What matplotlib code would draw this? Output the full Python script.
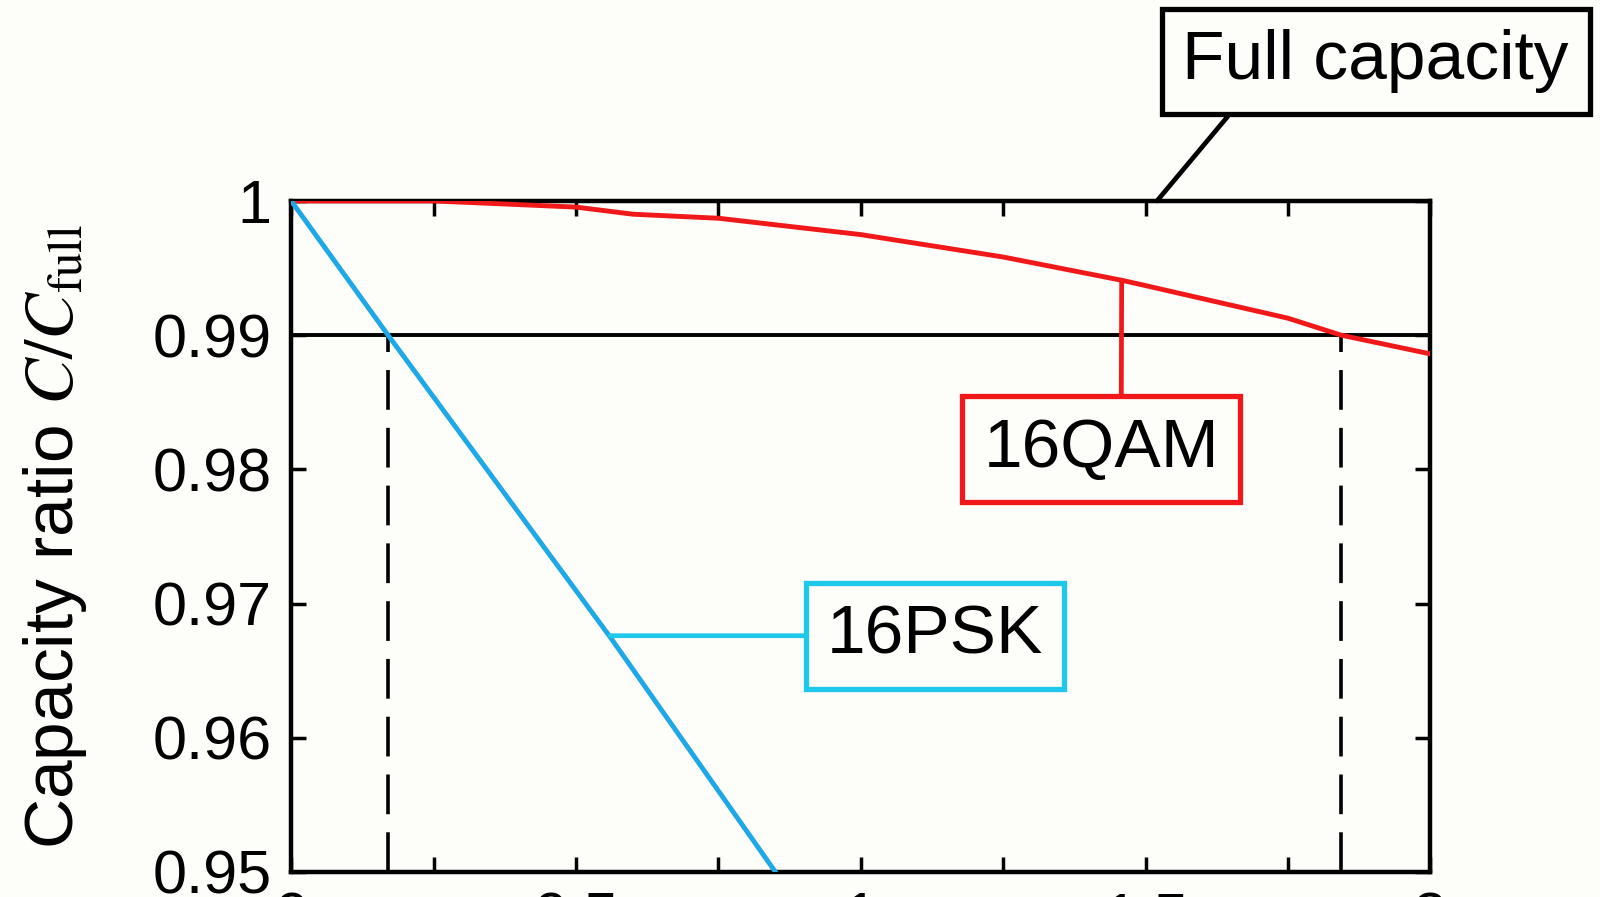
import matplotlib
matplotlib.use('Agg')
import matplotlib.pyplot as plt
from matplotlib.ticker import MultipleLocator

plt.rcParams['font.family'] = ['Liberation Sans', 'DejaVu Sans']
plt.rcParams['mathtext.fontset'] = 'stix'

# 16QAM capacity ratio
qam_x = [0.0, 0.25, 0.5, 0.6, 0.75, 1.0, 1.25, 1.46, 1.5, 1.75, 1.843, 2.0]
qam_y = [1.0, 1.0, 0.99954, 0.99901, 0.99871, 0.99749, 0.99582, 0.99407, 0.99369, 0.99126, 0.99, 0.9886]

# 16PSK capacity ratio
psk_x = [0.0, 0.17, 0.56, 0.85]
psk_y = [1.0, 0.99, 0.9675, 0.95]

threshold = 0.99
cross_x = [0.17, 1.843]

y_ticks = [0.95, 0.96, 0.97, 0.98, 0.99, 1.0]
y_labels = ['0.95', '0.96', '0.97', '0.98', '0.99', '1']
x_ticks = [0, 0.5, 1, 1.5, 2]
x_labels = ['0', '0.5', '1', '1.5', '2']

RED = '#f01818'
BLUE = '#1ea8e6'
CYAN = '#1ec8ea'
BG = '#fdfdf9'

fig = plt.figure(figsize=(16, 8.97), dpi=100, facecolor=BG)
ax = fig.add_axes([0.182, 0.028, 0.712, 0.748])
ax.set_facecolor(BG)

ax.axhline(threshold, color='black', linewidth=2.8, zorder=2)
for cx in cross_x:
    ax.plot([cx, cx], [0.95, threshold], color='black', linewidth=2.6,
            linestyle=(0, (11, 5)), zorder=2)

ax.plot(qam_x, qam_y, color=RED, linewidth=3.5, zorder=3)
ax.plot(psk_x, psk_y, color=BLUE, linewidth=3.5, zorder=3)

ax.set_xlim(0, 2)
ax.set_ylim(0.95, 1.0)
ax.set_yticks(y_ticks)
ax.set_yticklabels(y_labels)
ax.set_xticks(x_ticks)
ax.set_xticklabels(x_labels)
ax.xaxis.set_minor_locator(MultipleLocator(0.25))
ax.tick_params(which='both', direction='in', length=11, width=2.5,
               top=True, right=True, labelsize=44, pad=14, colors='black')
for sp in ax.spines.values():
    sp.set_linewidth(3.2)

ax.set_ylabel(r'Capacity ratio $C/C_{\mathrm{full}}$', fontsize=50, labelpad=46)

ax.annotate('Full capacity', xy=(1.52, 1.0), xytext=(1.904, 1.0104),
            ha='center', va='center', fontsize=50, annotation_clip=False,
            bbox=dict(boxstyle='square,pad=0.3', fc=BG, ec='black', lw=3.8),
            arrowprops=dict(arrowstyle='-', color='black', lw=3.4,
                            relpos=(0.167, 0.0), shrinkA=0, shrinkB=0))

ax.annotate('16QAM', xy=(1.458, 0.99407), xytext=(1.422, 0.9815),
            ha='center', va='center', fontsize=50,
            bbox=dict(boxstyle='square,pad=0.3', fc=BG, ec=RED, lw=3.8),
            arrowprops=dict(arrowstyle='-', color=RED, lw=3.4,
                            relpos=(0.585, 1.0), shrinkA=0, shrinkB=0))

ax.annotate('16PSK', xy=(0.56, 0.9676), xytext=(1.13, 0.9676),
            ha='center', va='center', fontsize=50,
            bbox=dict(boxstyle='square,pad=0.3', fc=BG, ec=CYAN, lw=3.8),
            arrowprops=dict(arrowstyle='-', color=CYAN, lw=3.4,
                            relpos=(0.0, 0.5), shrinkA=0, shrinkB=0))

fig.savefig('out.png', dpi=100, facecolor=fig.get_facecolor())
